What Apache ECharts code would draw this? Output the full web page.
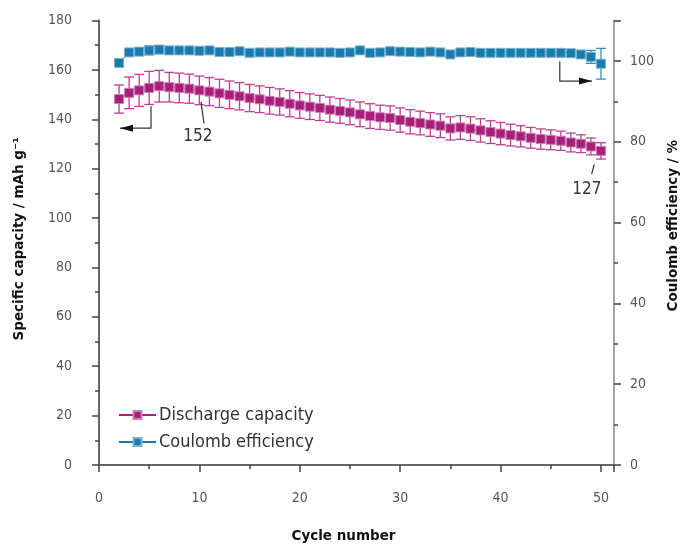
<!DOCTYPE html>
<html>
<head>
<meta charset="utf-8">
<script src="https://cdn.jsdelivr.net/npm/echarts@6/dist/echarts.min.js"></script>
<style>
html, body { margin: 0; padding: 0; background: #fff; }
#chart { width: 683px; height: 545px; }
</style>
</head>
<body>
<div id="chart"></div>
<script>
// cycle numbers 2..50
const cycles = [2, 3, 4, 5, 6, 7, 8, 9, 10, 11, 12, 13, 14, 15, 16, 17, 18, 19, 20, 21,
  22, 23, 24, 25, 26, 27, 28, 29, 30, 31, 32, 33, 34, 35, 36, 37, 38, 39, 40, 41,
  42, 43, 44, 45, 46, 47, 48, 49, 50];

// discharge capacity, mAh/g
const capacity = [148.2, 150.7, 151.7, 152.7, 153.4, 153.0, 152.7, 152.4, 151.7, 151.2,
  150.5, 149.9, 149.3, 148.6, 148.1, 147.5, 147.0, 146.3, 145.6, 145.1,
  144.6, 143.9, 143.4, 142.8, 142.0, 141.3, 140.8, 140.5, 139.7, 139.0,
  138.5, 137.9, 137.4, 136.3, 136.7, 136.2, 135.5, 134.8, 134.2, 133.6,
  133.1, 132.5, 132.0, 131.7, 131.3, 130.6, 130.1, 129.0, 127.2];
const capacityErr = [5.7, 6.4, 6.5, 6.7, 6.4, 6.0, 6.0, 5.9, 5.8, 5.7,
  5.7, 5.6, 5.5, 5.5, 5.4, 5.4, 5.3, 5.3, 5.2, 5.2,
  5.1, 5.1, 5.0, 5.0, 5.0, 5.0, 4.9, 4.9, 4.9, 4.9,
  4.8, 4.8, 4.8, 4.7, 4.8, 4.8, 4.7, 4.6, 4.5, 4.4,
  4.3, 4.2, 4.1, 4.0, 3.9, 3.8, 3.6, 3.4, 3.3];

// coulomb efficiency, %
const efficiency = [99.5, 102.1, 102.3, 102.6, 102.8, 102.6, 102.6, 102.6, 102.5, 102.6,
  102.2, 102.2, 102.4, 102.0, 102.1, 102.1, 102.1, 102.3, 102.1, 102.1,
  102.1, 102.1, 102.0, 102.1, 102.6, 102.0, 102.1, 102.4, 102.3, 102.2,
  102.1, 102.3, 102.1, 101.6, 102.1, 102.2, 102.0, 102.0, 102.0, 102.0,
  102.0, 102.0, 102.0, 102.0, 102.0, 101.9, 101.6, 101.0, 99.3];
const efficiencyErr = [0.4, 0.4, 0.8, 1.1, 1.0, 0.4, 0.4, 0.4, 0.4, 0.4,
  0.4, 0.4, 0.4, 0.4, 0.4, 0.4, 0.4, 0.4, 0.4, 0.4,
  0.4, 0.4, 0.4, 0.4, 0.4, 0.4, 0.4, 0.4, 0.4, 0.4,
  0.4, 0.4, 0.4, 0.4, 0.4, 0.4, 0.4, 0.4, 0.4, 0.4,
  0.4, 0.4, 0.4, 0.4, 0.4, 0.4, 0.8, 1.6, 3.8];

const seriesNames = ["Discharge capacity", "Coulomb efficiency"];

const PURPLE = "#a51f7b";
const BLUE = "#1a7aab";
const NARROW = '"Liberation Sans Narrow", "DejaVu Sans Condensed", "Roboto Condensed", sans-serif';
const BOLD = '"DejaVu Sans", "Liberation Sans", sans-serif';

const chart = echarts.init(document.getElementById("chart"));

// error bars drawn with a custom series
const errorBars = (ys, errs, axisIdx, color) => ({
  type: "custom",
  yAxisIndex: axisIdx,
  silent: true,
  z: 1,
  data: cycles.map((c, i) => [c, ys[i] - errs[i], ys[i] + errs[i]]),
  encode: { x: 0, y: [1, 2] },
  renderItem: (params, api) => {
    const lo = api.coord([api.value(0), api.value(1)]);
    const hi = api.coord([api.value(0), api.value(2)]);
    const w = 5;
    const st = { stroke: color, lineWidth: 1.3 };
    return {
      type: "group",
      children: [
        { type: "line", shape: { x1: lo[0], y1: lo[1], x2: hi[0], y2: hi[1] }, style: st },
        { type: "line", shape: { x1: lo[0] - w, y1: lo[1], x2: lo[0] + w, y2: lo[1] }, style: st },
        { type: "line", shape: { x1: hi[0] - w, y1: hi[1], x2: hi[0] + w, y2: hi[1] }, style: st }
      ]
    };
  }
});

const axisCommon = {
  axisLine: { show: true, lineStyle: { color: "#666", width: 2 } },
  axisTick: { show: true, inside: false, length: 7, lineStyle: { color: "#444", width: 1.5 } },
  minorTick: { show: true, splitNumber: 2, length: 4, lineStyle: { color: "#444", width: 1.5 } },
  splitLine: { show: false },
  axisLabel: { fontFamily: NARROW, fontSize: 14, color: "#555" },
  nameTextStyle: { fontFamily: BOLD, fontWeight: "bold", fontSize: 13.5, color: "#111" }
};

const option = {
  animation: false,
  backgroundColor: "#fff",
  grid: { left: 99, right: 69, top: 20.5, bottom: 80, outerBoundsMode: "none", containLabel: false },
  legend: {
    data: seriesNames,
    orient: "vertical",
    left: 113,
    top: 401,
    itemWidth: 37,
    itemHeight: 10,
    itemGap: 9,
    textStyle: { fontFamily: NARROW, fontSize: 18, color: "#333", padding: [0, 0, 0, -2] }
  },
  xAxis: {
    type: "value",
    min: 0,
    max: 51.3,
    interval: 10,
    name: "Cycle number",
    nameLocation: "middle",
    nameGap: 64,
    ...axisCommon,
    nameTextStyle: { ...axisCommon.nameTextStyle, padding: [0, 26, 0, 0] },
    axisLabel: { ...axisCommon.axisLabel, margin: 26, showMaxLabel: false }
  },
  yAxis: [
    {
      type: "value",
      min: 0,
      max: 180,
      interval: 20,
      name: "Specific capacity / mAh g\u207B\u00B9",
      nameLocation: "middle",
      nameGap: 73,
      ...axisCommon,
      nameTextStyle: { ...axisCommon.nameTextStyle, padding: [0, 0, 0, 8] },
      axisLabel: { ...axisCommon.axisLabel, margin: 27 }
    },
    {
      type: "value",
      position: "right",
      min: 0,
      max: 110,
      interval: 20,
      name: "Coulomb efficiency / %",
      nameLocation: "middle",
      nameRotate: 90,
      nameGap: 52,
      ...axisCommon,
      nameTextStyle: { ...axisCommon.nameTextStyle, padding: [0, 0, 0, 34] },
      axisLine: { show: true, lineStyle: { color: "#888", width: 1.5 } },
      axisLabel: { ...axisCommon.axisLabel, margin: 16, showMaxLabel: false }
    }
  ],
  series: [
    errorBars(capacity, capacityErr, 0, "#bd3e92"),
    errorBars(efficiency, efficiencyErr, 1, "#3a90bf"),
    {
      name: seriesNames[0],
      type: "line",
      yAxisIndex: 0,
      z: 3,
      symbol: "rect",
      symbolSize: 9,
      lineStyle: { color: PURPLE, width: 1 },
      itemStyle: { color: PURPLE, borderColor: "#cf7cb2", borderWidth: 1 },
      data: cycles.map((c, i) => [c, capacity[i]])
    },
    {
      name: seriesNames[1],
      type: "line",
      yAxisIndex: 1,
      z: 3,
      symbol: "rect",
      symbolSize: 9,
      lineStyle: { color: BLUE, width: 1 },
      itemStyle: { color: BLUE, borderColor: "#76b1d2", borderWidth: 1 },
      data: cycles.map((c, i) => [c, efficiency[i]])
    }
  ]
};

option && chart.setOption(option);

// annotations: leader lines, arrows and value labels, placed in data coordinates
const px = (pt, axisIdx) => chart.convertToPixel({ xAxisIndex: 0, yAxisIndex: axisIdx }, pt);

const polyline = (pts, axisIdx) => ({
  type: "polyline",
  z: 10,
  shape: { points: pts.map(p => px(p, axisIdx)) },
  style: { stroke: "#333", lineWidth: 1.2, fill: null }
});

const arrowHead = (tip, dir, axisIdx) => {
  const [x, y] = px(tip, axisIdx);
  const len = 13, half = 3.5;
  return {
    type: "polygon",
    z: 10,
    shape: { points: [[x, y], [x - dir * len, y - half], [x - dir * len, y + half]] },
    style: { fill: "#111" }
  };
};

const valueLabel = (text, pt, axisIdx) => {
  const [x, y] = px(pt, axisIdx);
  return {
    type: "text",
    z: 10,
    x: x,
    y: y,
    style: {
      text: text,
      fontFamily: NARROW,
      fontSize: 17,
      fill: "#333",
      align: "center",
      verticalAlign: "middle"
    }
  };
};

chart.setOption({
  graphic: [
    polyline([[5.18, 145.3], [5.18, 136.4], [2.09, 136.4]], 0),
    arrowHead([2.09, 136.4], -1, 0),
    polyline([[45.9, 99.85], [45.9, 95.0], [49.1, 95.0]], 1),
    arrowHead([49.1, 95.0], 1, 1),
    polyline([[10.16, 147.1], [10.46, 138.3]], 0),
    valueLabel("152", [9.85, 132.8], 0),
    polyline([[49.33, 121.7], [49.07, 117.8]], 0),
    valueLabel("127", [48.6, 111.7], 0)
  ]
});

const resizeHandler = () => chart.resize();
window.addEventListener("resize", resizeHandler);
</script>
</body>
</html>
